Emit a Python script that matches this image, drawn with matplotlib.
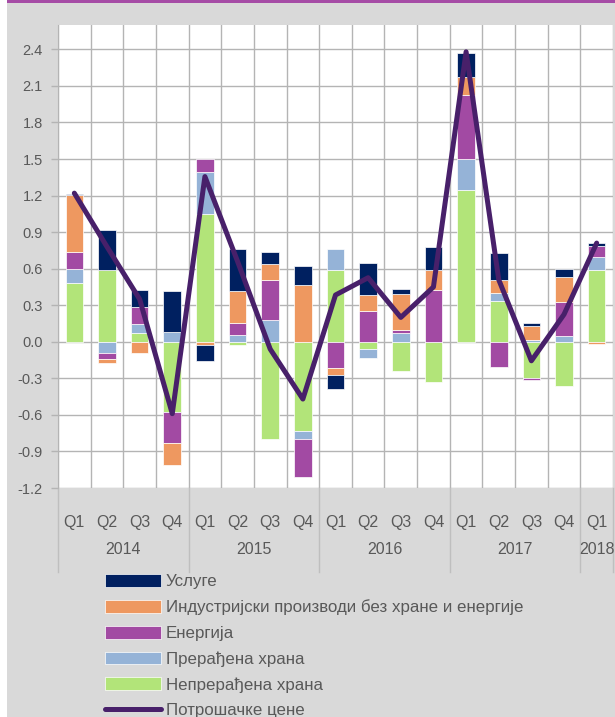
import matplotlib
matplotlib.use("Agg")
import matplotlib.pyplot as plt
import matplotlib.patches as mpatches
from matplotlib.lines import Line2D
import matplotlib.transforms as mtransforms
import numpy as np

plt.rcParams['font.family'] = ['Liberation Sans', 'DejaVu Sans']

quarters = ["Q1", "Q2", "Q3", "Q4"] * 4 + ["Q1"]
years = ["2014", "2015", "2016", "2017", "2018"]

series_names = ["Непрерађена храна", "Прерађена храна", "Енергија",
                "Индустријски производи без хране и енергије", "Услуге"]

unprocessed_food = [0.48, 0.586, 0.07, -0.573, 1.05, -0.03, -0.80, -0.73,
                    0.59, -0.063, -0.24, -0.326, 1.244, 0.334, -0.30, -0.365, 0.59]
processed_food = [0.12, -0.088, 0.08, 0.08, 0.342, 0.055, 0.178, -0.066,
                  0.175, -0.066, 0.074, 0.0, 0.26, 0.063, 0.016, 0.047, 0.104]
energy = [0.134, -0.055, 0.134, -0.258, 0.11, 0.10, 0.326, -0.313,
          -0.217, 0.252, 0.02, 0.425, 0.52, -0.21, -0.014, 0.28, 0.09]
industrial = [0.47, -0.027, -0.09, -0.184, -0.025, 0.26, 0.137, 0.47,
              -0.055, 0.13, 0.296, 0.167, 0.153, 0.11, 0.115, 0.208, -0.016]
services = [0.01, 0.334, 0.14, 0.34, -0.13, 0.345, 0.10, 0.156,
            -0.115, 0.266, 0.044, 0.186, 0.19, 0.225, 0.022, 0.063, 0.03]
cpi = [1.22, 0.78, 0.35, -0.59, 1.356, 0.66, -0.06, -0.47,
       0.384, 0.526, 0.20, 0.45, 2.38, 0.51, -0.156, 0.225, 0.81]
line_name = "Потрошачке цене"

colors = ["#B2E479", "#95B3D7", "#A24AA3", "#EE9860", "#002060"]
line_color = "#48206A"
bg = "#D9D9D9"
grid_c = "#B4B4B4"
txt_c = "#595959"

W, H = 615, 717
fig = plt.figure(figsize=(W / 100, H / 100), dpi=100)
fig.patch.set_facecolor(bg)
# white strip at left and purple strip at top
fig.patches.append(mpatches.Rectangle((0, 0), 7 / W, 1, transform=fig.transFigure,
                                      facecolor="white", edgecolor="none", zorder=0))
fig.patches.append(mpatches.Rectangle((7 / W, 1 - 3 / H), 1, 3 / H, transform=fig.transFigure,
                                      facecolor="#A64CA6", edgecolor="none", zorder=0))

left, right, top, bottom = 58, 613, 25, 488
ax = fig.add_axes([left / W, 1 - bottom / H, (right - left) / W, (bottom - top) / H])
ax.set_facecolor("white")

x = np.arange(len(cpi))
data = [unprocessed_food, processed_food, energy, industrial, services]
pos_base = np.zeros(len(x))
neg_base = np.zeros(len(x))
bar_handles = []
for vals, c, name in zip(data, colors, series_names):
    v = np.array(vals)
    base = np.where(v >= 0, pos_base, neg_base)
    b = ax.bar(x, v, bottom=base, width=0.54, color=c, edgecolor="white",
               linewidth=0.5, label=name, zorder=3)
    bar_handles.append(b)
    pos_base = pos_base + np.where(v >= 0, v, 0)
    neg_base = neg_base + np.where(v < 0, v, 0)

ln, = ax.plot(x, cpi, color=line_color, lw=3.6, zorder=4, solid_joinstyle="round",
              solid_capstyle="round", label=line_name)

ax.set_xlim(-0.5, len(x) - 0.5)
ax.set_ylim(-1.2, 2.6)
yt = np.round(np.arange(-1.2, 2.41, 0.3), 1)
ax.set_yticks(yt)
ax.set_yticklabels([f"{t:.1f}" for t in yt], color=txt_c, fontsize=10.5)
ax.tick_params(axis="y", length=5, color=grid_c, width=1, pad=6)
ax.set_xticks([])
ax.set_xticks(np.arange(-0.5, len(x)), minor=True)
ax.tick_params(axis="x", which="minor", length=0)
ax.grid(axis="y", color=grid_c, lw=1, zorder=0)
ax.grid(axis="x", which="minor", color=grid_c, lw=1, zorder=0)
for s in ["top", "right", "bottom"]:
    ax.spines[s].set_visible(False)
ax.spines["left"].set_color(grid_c)

# category labels
trans = mtransforms.blended_transform_factory(ax.transData, fig.transFigure)
for i, q in enumerate(quarters):
    ax.text(i, 1 - 523 / H, q, transform=trans, ha="center", va="center",
            color=txt_c, fontsize=11.5, clip_on=False)
year_centers = [1.5, 5.5, 9.5, 13.5, 16.0]
for yc, yl in zip(year_centers, years):
    ax.text(yc, 1 - 549 / H, yl, transform=trans, ha="center", va="center",
            color=txt_c, fontsize=11.5, clip_on=False)
for sx in [-0.5, 3.5, 7.5, 11.5, 15.5, 16.5]:
    ax.add_line(Line2D([sx, sx], [1 - bottom / H, 1 - 572 / H], transform=trans,
                       color="#BFBFBF", lw=1, clip_on=False))

handles = bar_handles[::-1] + [ln]
labels = series_names[::-1] + [line_name]
leg = fig.legend(handles, labels, loc="upper left",
                 bbox_to_anchor=(105 / W, 1 - 574 / H), frameon=False,
                 fontsize=12.2, handlelength=3.3, handleheight=0.78,
                 labelspacing=0.61, handletextpad=0.3, borderpad=0, borderaxespad=0)
for t in leg.get_texts():
    t.set_color(txt_c)

fig.savefig("out.png", dpi=100, facecolor=bg)
